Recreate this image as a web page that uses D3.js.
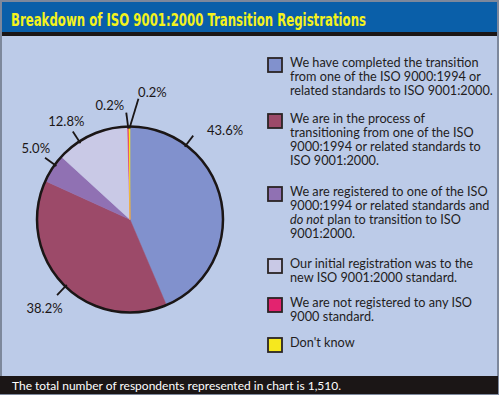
<!DOCTYPE html>
<html>
<head>
<meta charset="utf-8">
<script src="https://cdnjs.cloudflare.com/ajax/libs/d3/7.8.5/d3.min.js"></script>
<style>
  body { margin: 0; background: #fff; }
  text { font-family: Lato, "Open Sans", sans-serif; }
</style>
</head>
<body>
<div id="chart"></div>
<script>
// data
var title = "Breakdown of ISO 9001:2000 Transition Registrations";
var footnote = "The total number of respondents represented in chart is 1,510.";
var categories = [
  ["We have completed the transition", "from one of the ISO 9000:1994 or", "related standards to ISO 9001:2000."],
  ["We are in the process of", "transitioning from one of the ISO", "9000:1994 or related standards to", "ISO 9001:2000."],
  ["We are registered to one of the ISO", "9000:1994 or related standards and", "<i>do not</i> plan to transition to ISO", "9001:2000."],
  ["Our initial registration was to the", "new ISO 9001:2000 standard."],
  ["We are not registered to any ISO", "9000 standard."],
  ["Don't know"]
];
var values = [43.6, 38.2, 5.0, 12.8, 0.2, 0.2];
var labels = ["43.6%", "38.2%", "5.0%", "12.8%", "0.2%", "0.2%"];
var colors = ["#8191cd", "#9c4a69", "#9071b3", "#c9c9e6", "#e3236f", "#f6e81e"];

// label layout (degrees from 12 o'clock, clockwise)
var leaderAngle = [37, 224, 306, 327, 358, 4];
var leaderLen = [12, 12, 12, 12, 14, 28];
var labelAngle = [47, 224, 307, 327, 350, 10];
var labelDist = [37, 30, 25, 24, 23, 36];

var W = 500, H = 397;
var svg = d3.select("#chart").append("svg")
    .attr("width", W)
    .attr("height", H);

// frame
svg.append("rect").attr("x", 1).attr("y", 1).attr("width", 497).attr("height", 393)
    .attr("fill", "#bccbe8").attr("stroke", "#7d889c").attr("stroke-width", 2);
svg.append("rect").attr("x", 2).attr("y", 2).attr("width", 495).attr("height", 31)
    .attr("fill", "#0a5fa9");
svg.append("rect").attr("x", 2).attr("y", 32).attr("width", 495).attr("height", 4)
    .attr("fill", "#1b1616");
svg.append("rect").attr("x", 0).attr("y", 376).attr("width", 498).attr("height", 18)
    .attr("fill", "#1b1616");

svg.append("text")
    .attr("x", 11).attr("y", 26)
    .attr("fill", "#f4f21c")
    .attr("font-weight", "bold")
    .attr("font-size", 18)
    .style("font-family", "'Liberation Sans Narrow', 'DejaVu Sans Condensed', Roboto, sans-serif")
    .attr("textLength", 355)
    .attr("lengthAdjust", "spacingAndGlyphs")
    .text(title);

svg.append("text")
    .attr("x", 12).attr("y", 390)
    .attr("fill", "#fff")
    .attr("font-size", 12)
    .text(footnote);

// pie
var cx = 130, cy = 219.5, r = 93;
var g = svg.append("g").attr("transform", "translate(" + cx + "," + cy + ")");

var pie = d3.pie().sort(null).value(function (d) { return d; });
var arc = d3.arc().innerRadius(0).outerRadius(r);
var arcs = pie(values);

g.selectAll("path.slice")
  .data(arcs)
  .enter().append("path")
    .attr("class", "slice")
    .attr("d", arc)
    .attr("fill", function (d, i) { return colors[i]; })
    .attr("stroke", function (d, i) { return colors[i]; })
    .attr("stroke-width", 0.5);

g.append("circle").attr("r", r)
    .attr("fill", "none").attr("stroke", "#1b1616").attr("stroke-width", 2.5);

function polar(deg, rad) {
  var a = deg * Math.PI / 180;
  return [Math.sin(a) * rad, -Math.cos(a) * rad];
}

arcs.forEach(function (d, i) {
  var mid = (d.startAngle + d.endAngle) / 2 * 180 / Math.PI;
  var startDeg = values[i] < 1 ? mid : leaderAngle[i];
  var p0 = polar(startDeg, r - 2);
  var p1 = polar(leaderAngle[i], r + leaderLen[i]);
  g.append("line")
      .attr("x1", p0[0]).attr("y1", p0[1])
      .attr("x2", p1[0]).attr("y2", p1[1])
      .attr("stroke", "#1b1616").attr("stroke-width", 1.8);
  var pt = polar(labelAngle[i], r + labelDist[i]);
  g.append("text")
      .attr("x", pt[0]).attr("y", pt[1])
      .attr("text-anchor", "middle")
      .attr("dy", "0.35em")
      .attr("font-size", 13)
      .attr("fill", "#1b1616")
      .text(labels[i]);
});

// legend
var legendTop = [58, 114, 187, 259, 298, 338];
var lg = svg.append("g");
categories.forEach(function (lines, i) {
  lg.append("rect")
      .attr("x", 268).attr("y", legendTop[i])
      .attr("width", 14).attr("height", 14)
      .attr("fill", colors[i])
      .attr("stroke", "#2a2424").attr("stroke-width", 1.8);
  var t = lg.append("text")
      .attr("x", 290).attr("y", legendTop[i] + 9)
      .attr("font-size", 12.7)
      .attr("fill", "#231d1d");
  lines.forEach(function (ln, j) {
    var ts = t.append("tspan").attr("x", 290).attr("dy", j === 0 ? 0 : 14);
    var m = ln.match(/^<i>(.*)<\/i>(.*)$/);
    if (m) {
      ts.append("tspan").attr("font-style", "italic").text(m[1]);
      ts.append("tspan").text(m[2]);
    } else {
      ts.text(ln);
    }
  });
});
</script>
</body>
</html>
